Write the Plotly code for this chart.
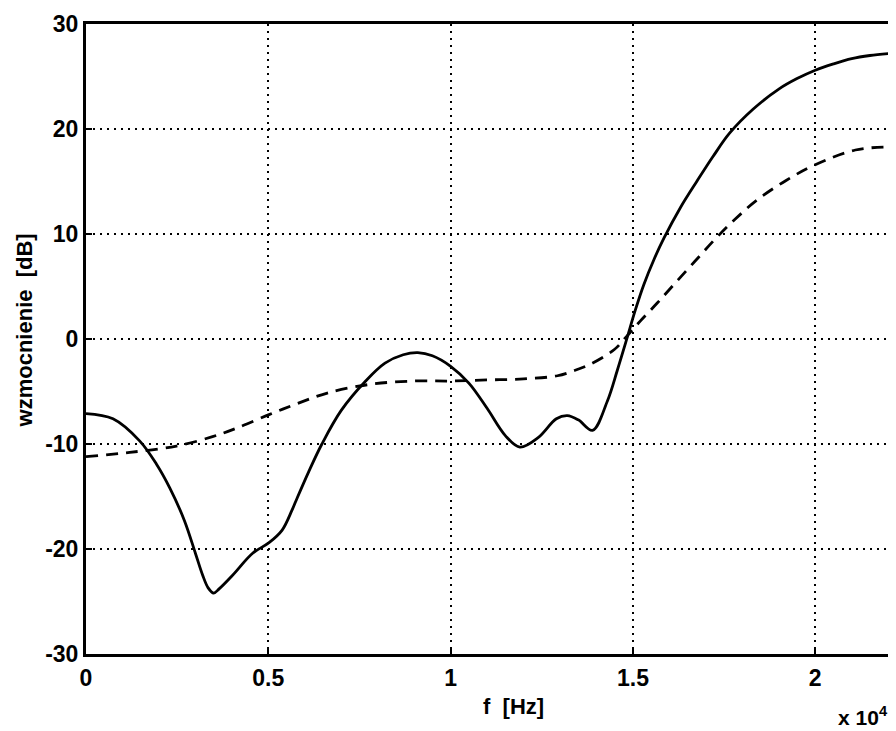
import plotly.graph_objects as go

# solid curve (frequency in Hz, gain in dB)
solid_f = [0, 740, 1470, 1930, 2300, 2700, 3000, 3200, 3350, 3500, 3650, 4020, 4570, 5020, 5380,
           5650, 5760, 6100, 6470,
           7000, 7670, 8200, 8700, 9100, 9500, 10000, 10500, 11000, 11500, 11900, 12400,
           12900, 13200, 13500, 13890, 14300, 14570, 14840, 15060, 15300, 15580, 15850,
           16300, 16750, 17200, 17650, 18300, 19000, 19500, 20000, 20500, 21000, 21500, 22050]
solid_db = [-7.1, -7.6, -9.7, -11.9, -14.2, -17.3, -20.4, -22.5, -23.7, -24.2, -23.8, -22.5, -20.4, -19.4, -18.2,
            -16.3, -15.4, -12.7, -10.0,
            -6.8, -4.0, -2.3, -1.5, -1.3, -1.6, -2.6, -4.2, -6.6, -9.2, -10.3, -9.4,
            -7.6, -7.3, -7.7, -8.7, -5.9, -3.0, 0.1, 2.7, 5.2, 7.6, 9.6,
            12.5, 15.0, 17.4, 19.6, 21.9, 23.8, 24.8, 25.6, 26.2, 26.7, 27.0, 27.2]

# dashed curve
dashed_f = [0, 1200, 2480, 3470, 4120, 5020, 5760, 6660, 7830, 9000, 10000, 11000, 12000,
            12930, 13400, 13830, 14490, 14840, 15200, 15660, 16125, 16700, 17250, 17800,
            18390, 19200, 20000, 21100, 22050]
dashed_db = [-11.2, -10.8, -10.2, -9.3, -8.5, -7.2, -6.2, -5.1, -4.3, -4.0, -4.0, -3.9, -3.8,
             -3.5, -3.0, -2.4, -1.0, 0.3, 1.7, 3.4, 5.2, 7.4, 9.5, 11.4,
             13.2, 15.1, 16.6, 18.0, 18.3]

x_tickvals = [0, 5000, 10000, 15000, 20000]
x_ticktext = ["0", "0.5", "1", "1.5", "2"]
y_tickvals = [-30, -20, -10, 0, 10, 20, 30]
y_ticktext = ["-30", "-20", "-10", "0", "10", "20", "30"]

FONT = "Liberation Sans"

fig = go.Figure()
fig.add_trace(go.Scatter(x=dashed_f, y=dashed_db, mode="lines",
                         line=dict(color="black", width=2.8, dash="12px,8px", shape="spline", smoothing=1.0),
                         showlegend=False))
fig.add_trace(go.Scatter(x=solid_f, y=solid_db, mode="lines",
                         line=dict(color="black", width=2.8, shape="spline", smoothing=1.0),
                         showlegend=False))

axis_common = dict(showline=True, linecolor="black", linewidth=3, mirror=True,
                   showgrid=True, gridcolor="black", gridwidth=2, griddash="2px,5px",
                   zeroline=False, ticks="inside", ticklen=6, tickcolor="black", tickwidth=2,
                   tickfont=dict(family=FONT, size=23, color="black", weight="bold"))

fig.update_xaxes(range=[0, 22050], tickvals=x_tickvals, ticktext=x_ticktext,
                 ticklabelstandoff=1, **axis_common)
fig.update_yaxes(range=[-30, 30], tickvals=y_tickvals, ticktext=y_ticktext, **axis_common)

fig.update_layout(
    width=888, height=723,
    margin=dict(l=78, r=3, t=14, b=77),
    paper_bgcolor="white", plot_bgcolor="white",
    annotations=[
        dict(text="f&nbsp;&nbsp;[Hz]", xref="paper", yref="paper", x=0.5316, y=-0.0839,
             xanchor="center", yanchor="middle",
             showarrow=False, font=dict(family=FONT, size=22, color="black", weight="bold")),
        dict(text="wzmocnienie&nbsp;&nbsp;[dB]", xref="paper", yref="paper", x=-0.0768, y=0.514,
             xanchor="center", yanchor="middle",
             textangle=-90, showarrow=False,
             font=dict(family=FONT, size=22, color="black", weight="bold")),
        dict(text="x 10<sup>4</sup>", xref="paper", yref="paper", x=0.966, y=-0.0985,
             xanchor="center", yanchor="middle",
             showarrow=False, font=dict(family=FONT, size=21, color="black", weight="bold")),
    ],
)

fig.write_html("out.html")
